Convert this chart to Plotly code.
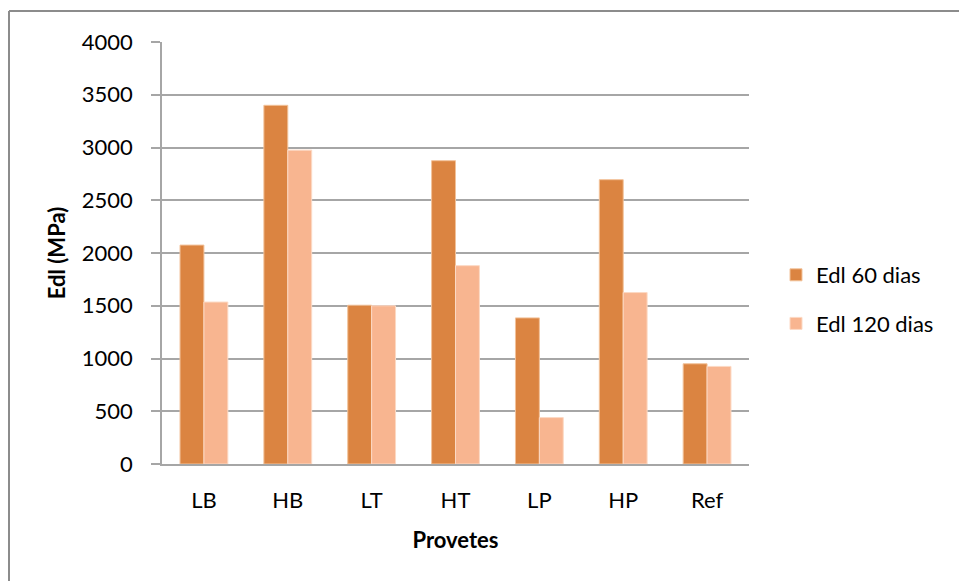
import plotly.graph_objects as go

# Specimen groups and dynamic modulus of elasticity (MPa)
provetes = ["LB", "HB", "LT", "HT", "LP", "HP", "Ref"]
edl_60_dias = [2075, 3400, 1505, 2875, 1385, 2695, 950]
edl_120_dias = [1535, 2975, 1500, 1880, 440, 1625, 925]
y_ticks = [0, 500, 1000, 1500, 2000, 2500, 3000, 3500, 4000]

FONT = "Lato, 'Open Sans', sans-serif"
GRID = "#a6a6a6"
FS = 22

fig = go.Figure()
fig.add_trace(go.Bar(
    name="Edl 60 dias", x=provetes, y=edl_60_dias, legendgroup="g60",
    marker=dict(color="#db8441", line=dict(color="#f2c29a", width=1)),
))
fig.add_trace(go.Bar(
    name="Edl 120 dias", x=provetes, y=edl_120_dias, legendgroup="g120",
    marker=dict(color="#f8b590", line=dict(color="#fcd9c4", width=1)),
))

W, H = 959, 581
L, R, T, B = 162, 210, 42, 117
pw, ph = W - L - R, H - T - B

def px(x):
    return (x - L) / pw

def py(y):
    return (H - B - y) / ph

fig.update_layout(
    width=W, height=H,
    margin=dict(l=L, r=R, t=T, b=B),
    paper_bgcolor="white", plot_bgcolor="white",
    barmode="group", bargap=0.43, bargroupgap=0,
    font=dict(family=FONT, size=FS, color="#000000"),
    showlegend=True,
    legend=dict(
        x=px(776), y=py(254), xanchor="left", yanchor="top",
        font=dict(family=FONT, size=FS, color="#000000"),
        tracegroupgap=17, itemwidth=30, bgcolor="rgba(0,0,0,0)",
    ),
    xaxis=dict(
        showline=True, linecolor=GRID, linewidth=1.5,
        ticks="", tickfont=dict(family=FONT, size=FS),
        ticklabelstandoff=16,
        title=dict(text="<b>Provetes</b>", font=dict(family=FONT, size=FS), standoff=20),
        showgrid=False,
    ),
    yaxis=dict(
        range=[0, 4000], tickvals=y_ticks, ticktext=[str(v) for v in y_ticks],
        showline=True, linecolor=GRID, linewidth=1.5,
        showgrid=True, gridcolor=GRID, gridwidth=1.5,
        ticks="outside", ticklen=9, tickcolor=GRID, tickwidth=1.5,
        ticklabelstandoff=14,
        tickfont=dict(family=FONT, size=FS),
        title=dict(text="<b>Edl (MPa)</b>", font=dict(family=FONT, size=FS), standoff=10),
        zeroline=False,
    ),
    shapes=[
        # chart area frame (top and left edges)
        dict(type="line", xref="paper", yref="paper",
             x0=px(9), x1=px(W + 5), y0=py(11), y1=py(11),
             line=dict(color="#8c8c8c", width=2)),
        dict(type="line", xref="paper", yref="paper",
             x0=px(9), x1=px(9), y0=py(11), y1=py(H + 5),
             line=dict(color="#8c8c8c", width=2)),
    ],
)

fig.write_html("out.html")
